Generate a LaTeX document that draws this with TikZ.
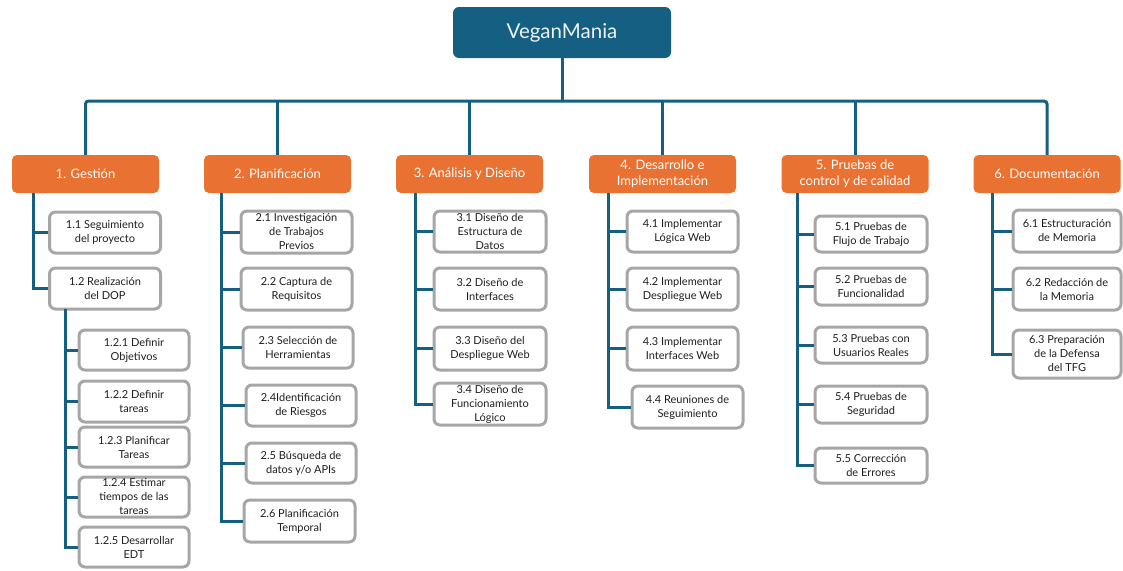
\documentclass[tikz,border=0pt]{standalone}
\usepackage{fontspec}
\setmainfont{Lato}
\usepackage{tikz}

\definecolor{tealblue}{HTML}{156082}
\definecolor{phaseorange}{HTML}{E97132}
\definecolor{boxgray}{HTML}{A6A6A6}
\definecolor{textgray}{HTML}{1F1F1F}

\begin{document}
\begin{tikzpicture}[x=1pt,y=-1pt,
    root/.style={fill=tealblue,rounded corners=6pt,minimum width=218pt,minimum height=51pt,inner sep=0,text=white!92!tealblue,font=\fontsize{20.5}{24}\selectfont},
    phase/.style={fill=phaseorange,rounded corners=5pt,minimum width=147pt,minimum height=38pt,inner sep=0,text=white,align=center,font=\fontsize{13}{16}\selectfont},
    task/.style={draw=boxgray,line width=3pt,fill=white,rounded corners=6pt,minimum width=111pt,minimum height=41pt,inner sep=0,text=textgray,align=center,font=\fontsize{11}{14}\selectfont},
    link/.style={draw=tealblue,line width=3pt}]
  \useasboundingbox (0,0) rectangle (1123,570);

  % top and phases
  \node[root] (top) at (562,32.5) {VeganMania};
  \node[phase] (c1) at (85.5,174) {1. Gestión};
  \node[phase] (c2) at (277.5,174) {2. Planificación};
  \node[phase] (c3) at (469.5,174) {3. Análisis y Diseño};
  \node[phase] (c4) at (662.5,174) {4. Desarrollo e\\Implementación};
  \node[phase] (c5) at (855,174) {5. Pruebas de\\control y de calidad};
  \node[phase] (c6) at (1047,174) {6. Documentación};

  \coordinate (bar) at (0,101);
  \draw[link] (top.south) -- (top.south |- bar);
  \draw[link,rounded corners=3pt] (c1.north) |- (bar -| c6.north) -- (c6.north);
  \foreach \c in {c2,c3,c4,c5}
    \draw[link] (\c.north) -- (\c.north |- bar);

  % 1. Gestion
  \node[task] (g1) at (105,232.5) {1.1 Seguimiento\\del proyecto};
  \node[task] (g2) at (105,288.5) {1.2 Realización\\del DOP};
  \node[task,minimum width=110pt,minimum height=40pt] (g21) at (134,350) {1.2.1 Definir\\Objetivos};
  \node[task,minimum width=110pt] (g22) at (134,401.5) {1.2.2 Definir\\tareas};
  \node[task,minimum width=110pt,minimum height=40pt] (g23) at (134,447) {1.2.3 Planificar\\Tareas};
  \node[task,minimum width=110pt,minimum height=40pt] (g24) at (134,497) {1.2.4 Estimar\\tiempos de las\\tareas};
  \node[task,minimum width=110pt,minimum height=40pt] (g25) at (134,547) {1.2.5 Desarrollar\\EDT};
  \coordinate (s1) at (33,193);
  \coordinate (s12) at (65,309);
  \draw[link] (s1 |- g1.west) -- (g1.west);
  \draw[link] (s1) |- (g2.west);
  \foreach \t in {g21,g22,g23,g24}
    \draw[link] (s12 |- \t.west) -- (\t.west);
  \draw[link] (s12) |- (g25.west);

  % 2. Planificacion
  \node[task,minimum height=42pt] (p1) at (296.5,232) {2.1 Investigación\\de Trabajos\\Previos};
  \node[task,minimum height=42pt] (p2) at (296.5,289) {2.2 Captura de\\Requisitos};
  \node[task,minimum width=110pt] (p3) at (298,347.5) {2.3 Selección de\\Herramientas};
  \node[task,minimum width=110pt] (p4) at (301,405.5) {2.4Identificación\\de Riesgos};
  \node[task,minimum width=110pt,minimum height=40pt] (p5) at (301,463) {2.5 Búsqueda de\\datos y/o APIs};
  \node[task,minimum height=42pt] (p6) at (299.5,521) {2.6 Planificación\\Temporal};
  \coordinate (s2) at (221,193);
  \foreach \t in {p1,p2,p3,p4,p5}
    \draw[link] (s2 |- \t.west) -- (\t.west);
  \draw[link] (s2) |- (p6.west);

  % 3. Analisis y Diseno
  \node[task,minimum width=112pt] (a1) at (490,231.5) {3.1 Diseño de\\Estructura de\\Datos};
  \node[task,minimum width=112pt,minimum height=42pt] (a2) at (490,289) {3.2 Diseño de\\Interfaces};
  \node[task,minimum width=112pt,minimum height=43pt] (a3) at (490,348.5) {3.3 Diseño del\\Despliegue Web};
  \node[task,minimum width=112pt,minimum height=42pt] (a4) at (490,404) {3.4 Diseño de\\Funcionamiento\\Lógico};
  \coordinate (s3) at (415,193);
  \foreach \t in {a1,a2,a3}
    \draw[link] (s3 |- \t.west) -- (\t.west);
  \draw[link] (s3) |- (a4.west);

  % 4. Desarrollo e Implementacion
  \node[task] (d1) at (682.5,231.5) {4.1 Implementar\\Lógica Web};
  \node[task,minimum height=42pt] (d2) at (682.5,289) {4.2 Implementar\\Despliegue Web};
  \node[task,minimum height=43pt] (d3) at (682.5,348.5) {4.3 Implementar\\Interfaces Web};
  \node[task,minimum height=42pt] (d4) at (687.5,407) {4.4 Reuniones de\\Seguimiento};
  \coordinate (s4) at (608,193);
  \foreach \t in {d1,d2,d3}
    \draw[link] (s4 |- \t.west) -- (\t.west);
  \draw[link] (s4) -- (s4 |- d4.west) -- (d4.west);

  % 5. Pruebas
  \node[task,minimum width=112pt,minimum height=36pt] (q1) at (871,234) {5.1 Pruebas de\\Flujo de Trabajo};
  \node[task,minimum width=112pt,minimum height=37pt] (q2) at (871,286.5) {5.2 Pruebas de\\Funcionalidad};
  \node[task,minimum width=112pt,minimum height=36pt] (q3) at (871,345) {5.3 Pruebas con\\Usuarios Reales};
  \node[task,minimum width=112pt,minimum height=37pt] (q4) at (871,404.5) {5.4 Pruebas de\\Seguridad};
  \node[task,minimum width=112pt,minimum height=35pt] (q5) at (871,465.5) {5.5 Corrección\\de Errores};
  \coordinate (s5) at (797,193);
  \foreach \t in {q1,q2,q3,q4}
    \draw[link] (s5 |- \t.west) -- (\t.west);
  \draw[link] (s5) |- (q5.west);

  % 6. Documentacion
  \node[task,minimum width=108pt,minimum height=42pt] (m1) at (1067,231) {6.1 Estructuración\\de Memoria};
  \node[task,minimum width=108pt,minimum height=42pt] (m2) at (1067,289) {6.2 Redacción de\\la Memoria};
  \node[task,minimum width=108pt,minimum height=48pt] (m3) at (1067,354) {6.3 Preparación\\de la Defensa\\del TFG};
  \coordinate (s6) at (992,193);
  \foreach \t in {m1,m2}
    \draw[link] (s6 |- \t.west) -- (\t.west);
  \draw[link] (s6) |- (m3.west);
\end{tikzpicture}
\end{document}
